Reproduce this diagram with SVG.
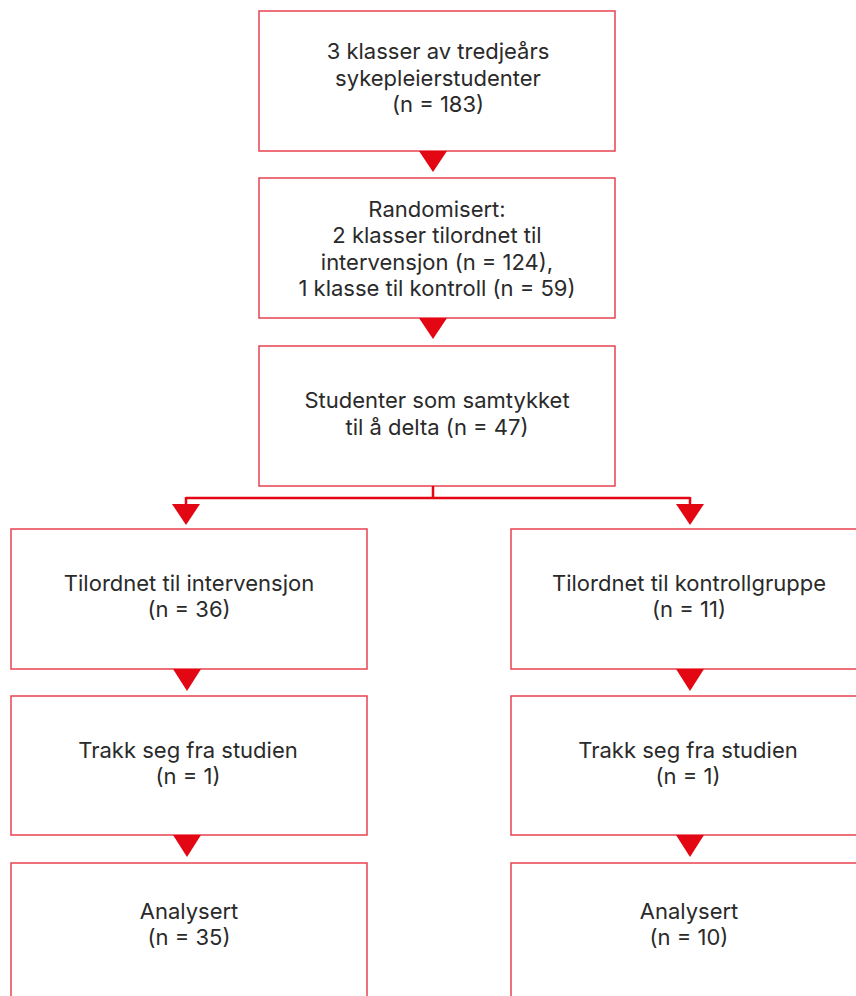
<svg xmlns="http://www.w3.org/2000/svg" width="856" height="996" viewBox="0 0 856 996">
<style>
.box{fill:#fff;stroke:#e8414f;stroke-width:1.5}
.t{font-family:Inter,"Liberation Sans",sans-serif;font-size:22px;fill:#2a2a2a;text-anchor:middle}
.tri{fill:#e30613}
.ln{fill:none;stroke:#e30613;stroke-width:2.5}
</style>
<rect width="856" height="996" fill="#fff"/>
<g id="n1"><rect class="box" x="259" y="11" width="356" height="140"/>
<text class="t" x="438" y="59">3 klasser av tredjeårs</text>
<text class="t" x="438" y="86">sykepleierstudenter</text>
<text class="t" x="438" y="112">(n = 183)</text></g>
<g id="n2"><rect class="box" x="259" y="178" width="356" height="140"/>
<text class="t" x="437" y="217">Randomisert:</text>
<text class="t" x="437" y="243">2 klasser tilordnet til</text>
<text class="t" x="437" y="270">intervensjon (n = 124),</text>
<text class="t" x="437" y="296">1 klasse til kontroll (n = 59)</text></g>
<g id="n3"><rect class="box" x="259" y="346" width="356" height="140"/>
<text class="t" x="437" y="408">Studenter som samtykket</text>
<text class="t" x="437" y="435">til å delta (n = 47)</text></g>
<g id="n4"><rect class="box" x="11" y="529" width="356" height="140"/>
<text class="t" x="189" y="591">Tilordnet til intervensjon</text>
<text class="t" x="189" y="617">(n = 36)</text></g>
<g id="n5"><rect class="box" x="11" y="696" width="356" height="139"/>
<text class="t" x="188" y="758">Trakk seg fra studien</text>
<text class="t" x="188" y="784">(n = 1)</text></g>
<g id="n6"><rect class="box" x="11" y="863" width="356" height="140"/>
<text class="t" x="189" y="919">Analysert</text>
<text class="t" x="189" y="945">(n = 35)</text></g>
<g id="n7"><rect class="box" x="511" y="529" width="356" height="140"/>
<text class="t" x="689" y="591">Tilordnet til kontrollgruppe</text>
<text class="t" x="689" y="617">(n = 11)</text></g>
<g id="n8"><rect class="box" x="511" y="696" width="356" height="139"/>
<text class="t" x="688" y="758">Trakk seg fra studien</text>
<text class="t" x="688" y="784">(n = 1)</text></g>
<g id="n9"><rect class="box" x="511" y="863" width="356" height="140"/>
<text class="t" x="689" y="919">Analysert</text>
<text class="t" x="689" y="945">(n = 10)</text></g>
<g id="connectors">
<path class="tri" d="M419 151 L447 151 L433 172 Z"/>
<path class="tri" d="M419 318 L447 318 L433 339 Z"/>
<path class="ln" d="M433 486 V498 M186 498 H690 M186 497 V506 M690 497 V506"/>
<path class="tri" d="M172 504 L200 504 L186 525 Z"/>
<path class="tri" d="M676 504 L704 504 L690 525 Z"/>
<path class="tri" d="M173 669 L201 669 L187 691 Z"/>
<path class="tri" d="M173 835 L201 835 L187 857 Z"/>
<path class="tri" d="M676 669 L704 669 L690 691 Z"/>
<path class="tri" d="M676 835 L704 835 L690 857 Z"/>
</g>
</svg>
